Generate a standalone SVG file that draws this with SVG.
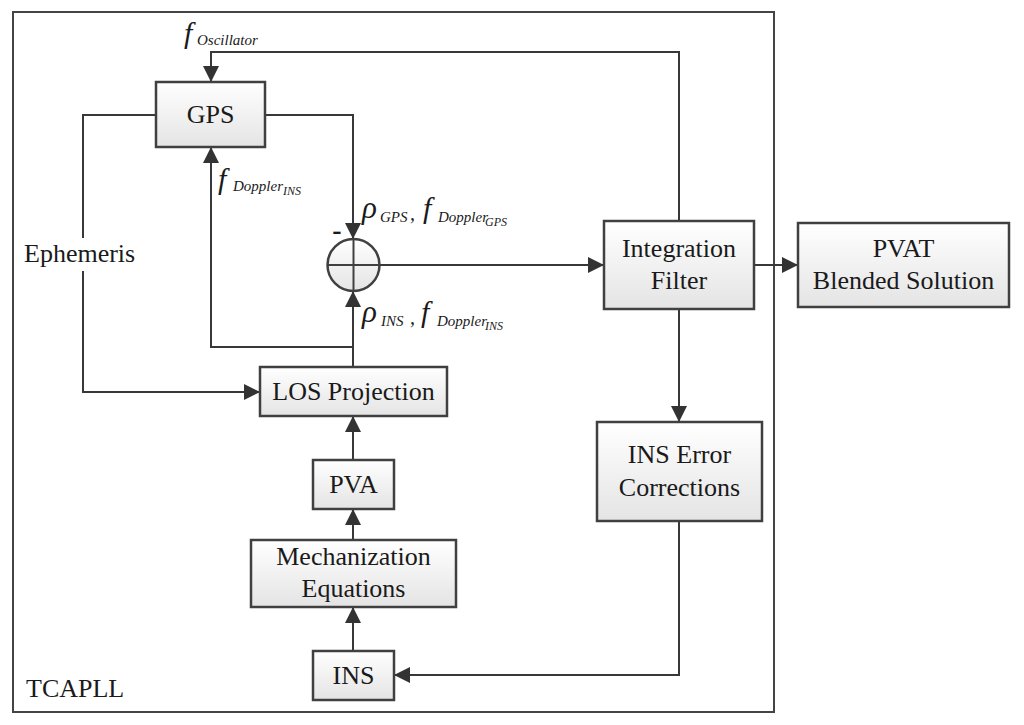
<svg xmlns="http://www.w3.org/2000/svg" width="1024" height="725" viewBox="0 0 1024 725">
<defs>
<linearGradient id="boxFill" x1="0" y1="0" x2="0" y2="1">
<stop offset="0" stop-color="#ffffff"/>
<stop offset="1" stop-color="#e4e4e4"/>
</linearGradient>
<marker id="arr" viewBox="0 0 16 16" refX="16" refY="8" markerWidth="16" markerHeight="16" markerUnits="userSpaceOnUse" orient="auto">
<path d="M0,0 L16,8 L0,16 Z" fill="#333333"/>
</marker>
</defs>
<style>
.box{fill:url(#boxFill);stroke:#404040;stroke-width:2.5}
.lbl{font-family:"Liberation Serif","Times New Roman",serif;font-size:26px;fill:#1a1a1a;text-anchor:middle}
.plain{font-family:"Liberation Serif","Times New Roman",serif;font-size:26px;fill:#1a1a1a}
.m{font-family:"Liberation Serif","Times New Roman",serif;font-style:italic;fill:#1a1a1a}
.wire{fill:none;stroke:#383838;stroke-width:2}
.arrow{fill:none;stroke:#383838;stroke-width:2;marker-end:url(#arr)}
</style>
<rect width="1024" height="725" fill="#ffffff"/>
<g id="frame">
<rect x="13" y="12" width="761" height="700" fill="none" stroke="#444444" stroke-width="2"/>
<text class="plain" x="26" y="697">TCAPLL</text>
</g>
<g id="connectors">
<polyline class="arrow" points="679,221 679,52 211,52 211,82"/>
<polyline class="arrow" points="265,115 353,115 353,239"/>
<polyline class="wire" points="156,115 83,115 83,238"/>
<polyline class="arrow" points="83,271 83,392 260,392"/>
<polyline class="arrow" points="353,367 353,291"/>
<polyline class="arrow" points="353,347 211,347 211,147"/>
<polyline class="arrow" points="379,265 604,265"/>
<polyline class="arrow" points="754,265 798,265"/>
<polyline class="arrow" points="679,309 679,422"/>
<polyline class="arrow" points="679,521 679,675 394,675"/>
<polyline class="arrow" points="353,460 353,416"/>
<polyline class="arrow" points="353,540 353,509"/>
<polyline class="arrow" points="353,651 353,607"/>
<text class="plain" x="24" y="262">Ephemeris</text>
<text class="m" x="184" y="43" font-size="30">f</text>
<text class="m" x="197" y="45" font-size="15">Oscillator</text>
<text class="m" x="218" y="189" font-size="30">f</text>
<text class="m" x="233" y="191" font-size="15">Doppler</text>
<text class="m" x="283" y="195" font-size="12">INS</text>
<text class="m" x="362" y="218" font-size="31">ρ</text>
<text class="m" x="380" y="222" font-size="15">GPS</text>
<text class="m" x="410" y="220" font-size="20">,</text>
<text class="m" x="423" y="218" font-size="30">f</text>
<text class="m" x="438" y="222" font-size="15">Doppler</text>
<text class="m" x="485" y="226" font-size="12">GPS</text>
<text x="337" y="239" font-family="Liberation Serif, serif" font-weight="bold" font-size="28" text-anchor="middle" fill="#1a1a1a">-</text>
<text class="m" x="362" y="322" font-size="31">ρ</text>
<text class="m" x="381" y="326" font-size="15">INS</text>
<text class="m" x="410" y="324" font-size="20">,</text>
<text class="m" x="421" y="322" font-size="30">f</text>
<text class="m" x="437" y="326" font-size="15">Doppler</text>
<text class="m" x="485" y="330" font-size="12">INS</text>
</g>
<g id="sum">
<circle cx="353.5" cy="265" r="26" fill="url(#boxFill)" stroke="#404040" stroke-width="2.5"/>
<line x1="327.5" y1="265" x2="379.5" y2="265" stroke="#404040" stroke-width="2"/>
<line x1="353.5" y1="239" x2="353.5" y2="291" stroke="#404040" stroke-width="2"/>
</g>
<g id="gps">
<rect class="box" x="156" y="82" width="109" height="65"/>
<text class="lbl" x="210.5" y="123">GPS</text>
</g>
<g id="los">
<rect class="box" x="260" y="367" width="187" height="49"/>
<text class="lbl" x="353.5" y="400">LOS Projection</text>
</g>
<g id="pva">
<rect class="box" x="313" y="460" width="81" height="49"/>
<text class="lbl" x="353.5" y="493">PVA</text>
</g>
<g id="mech">
<rect class="box" x="251" y="540" width="205" height="67"/>
<text class="lbl" x="353.5" y="565">Mechanization</text>
<text class="lbl" x="353.5" y="597">Equations</text>
</g>
<g id="ins">
<rect class="box" x="313" y="651" width="81" height="49"/>
<text class="lbl" x="353.5" y="684">INS</text>
</g>
<g id="integration">
<rect class="box" x="604" y="221" width="150" height="88"/>
<text class="lbl" x="679" y="257">Integration</text>
<text class="lbl" x="679" y="289">Filter</text>
</g>
<g id="inserr">
<rect class="box" x="597" y="422" width="165" height="99"/>
<text class="lbl" x="679.5" y="463">INS Error</text>
<text class="lbl" x="679.5" y="496">Corrections</text>
</g>
<g id="pvat">
<rect class="box" x="798" y="223" width="211" height="84"/>
<text class="lbl" x="903.5" y="257">PVAT</text>
<text class="lbl" x="903.5" y="289">Blended Solution</text>
</g>
</svg>
